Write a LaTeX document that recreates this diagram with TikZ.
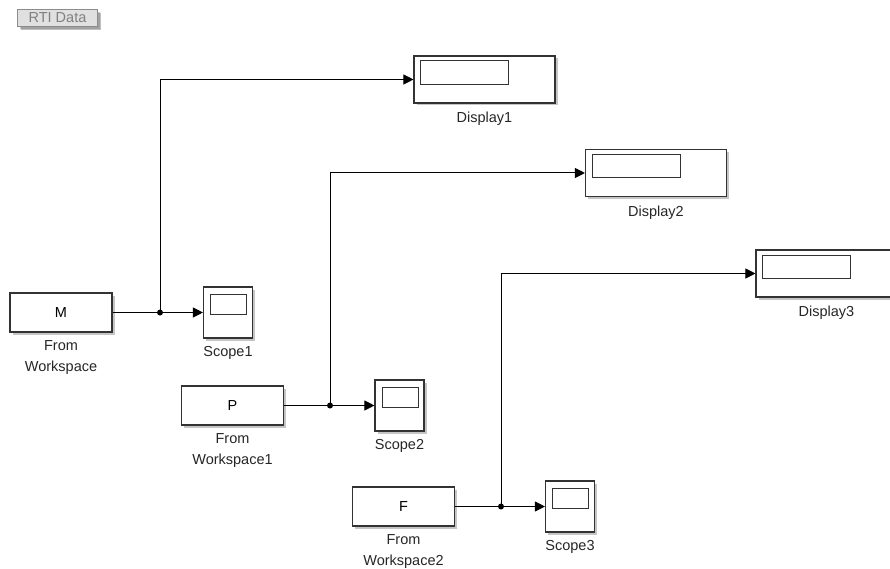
\documentclass[tikz,border=0pt]{standalone}
\usepackage{fontspec}
\setmainfont{Liberation Sans}
\usetikzlibrary{arrows.meta,positioning,shadows}

\begin{document}
\begin{tikzpicture}[x=1pt,y=-1pt,>={Triangle[length=10pt,width=10pt]},
  font=\fontsize{14.5}{21}\selectfont,line width=1pt,
  blk/.style={draw=black!80,line width=1.1pt,fill=white,inner sep=0pt,
    drop shadow={shadow xshift=2.5pt,shadow yshift=-2.5pt,fill=black!45}},
  wsblock/.style={blk,minimum width=102pt,minimum height=39pt},
  scopeblock/.style={blk,minimum width=49pt,minimum height=51pt,
    path picture={\draw[black!80,line width=1pt]
      ([xshift=7pt,yshift=-7.5pt]path picture bounding box.north west)
      rectangle ++(36pt,-19.5pt);}},
  dispblock/.style={blk,minimum width=141pt,minimum height=47pt,
    path picture={\draw[black!80,line width=1pt]
      ([xshift=6.5pt,yshift=-5pt]path picture bounding box.north west)
      rectangle ++(88pt,-23.5pt);}},
  lbl/.style={align=center,inner sep=0pt,text=black!85}]
\clip (0,0) rectangle (890,569);

\node[blk,fill=black!12,draw=black!45,text=black!50,minimum width=80pt,
  minimum height=17pt,inner sep=0.5pt,font=\fontsize{14.5}{14.5}\selectfont,
  drop shadow={shadow xshift=3.5pt,shadow yshift=-3.5pt,fill=black!50}]
  (rti) at (57.5,18) {RTI Data};

\node[wsblock] (ws1) at (61,312.5) {M};
\node[wsblock] (ws2) at (232.5,405.5) {P};
\node[wsblock] (ws3) at (403.5,506.5) {F};
\node[scopeblock] (sc1) at (228,312.5) {};
\node[scopeblock] (sc2) at (399.5,405.5) {};
\node[scopeblock] (sc3) at (570,506.5) {};
\node[dispblock] (ds1) at (484.5,79.5) {};
\node[dispblock] (ds2) at (656,173) {};
\node[dispblock] (ds3) at (826.5,273.5) {};

\node[lbl,below=7pt of ws1] (ws1lbl) {From\\Workspace};
\node[lbl,below=7pt of ws2] (ws2lbl) {From\\Workspace1};
\node[lbl,below=7pt of ws3] (ws3lbl) {From\\Workspace2};
\node[lbl,below=7pt of sc1] (sc1lbl) {Scope1};
\node[lbl,below=7pt of sc2] (sc2lbl) {Scope2};
\node[lbl,below=7pt of sc3] (sc3lbl) {Scope3};
\node[lbl,below=8pt of ds1] (ds1lbl) {Display1};
\node[lbl,below=8pt of ds2] (ds2lbl) {Display2};
\node[lbl,below=8pt of ds3] (ds3lbl) {Display3};

\coordinate (br1) at (160,312.5);
\coordinate (br2) at (330,405.5);
\coordinate (br3) at (501,506.5);

\draw (ws1.east) -- (br1);
\draw[->] (br1) -- (sc1.west);
\draw[->] (br1) |- (ds1.west);
\fill (br1) circle (3pt);

\draw (ws2.east) -- (br2);
\draw[->] (br2) -- (sc2.west);
\draw[->] (br2) |- (ds2.west);
\fill (br2) circle (3pt);

\draw (ws3.east) -- (br3);
\draw[->] (br3) -- (sc3.west);
\draw[->] (br3) |- (ds3.west);
\fill (br3) circle (3pt);
\end{tikzpicture}
\end{document}
